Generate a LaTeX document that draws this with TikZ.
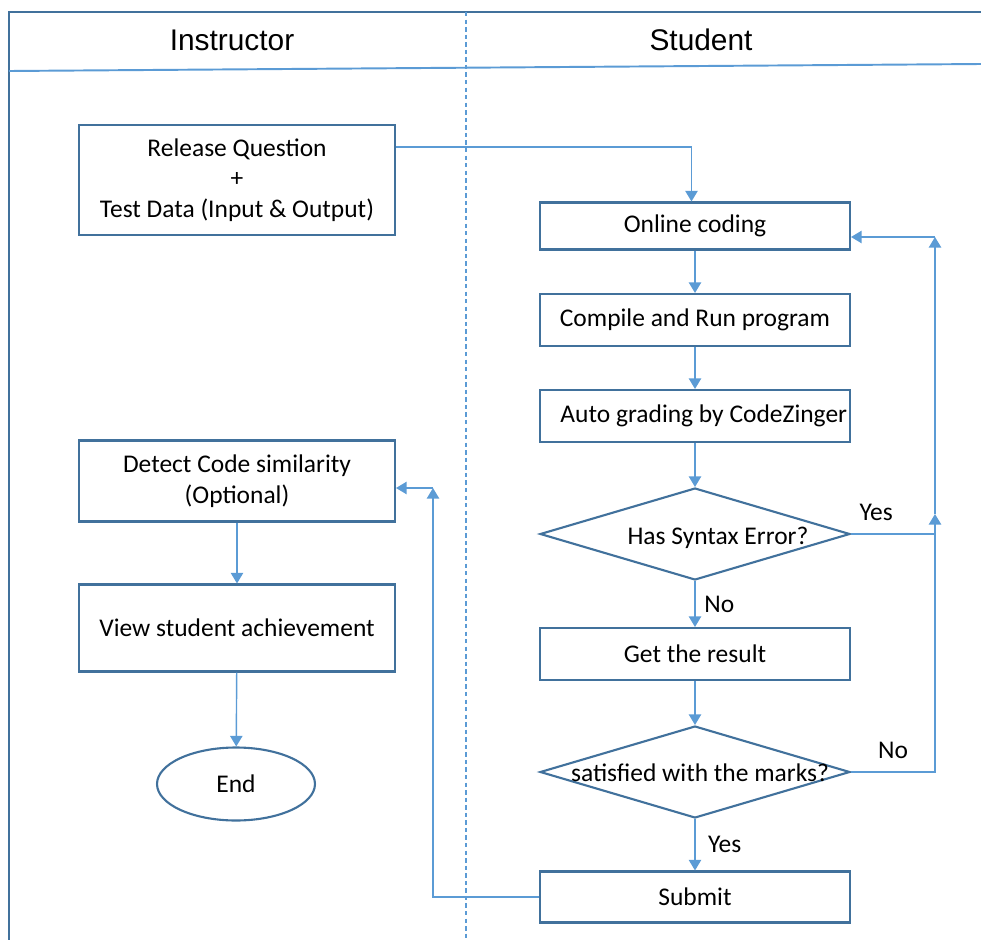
\documentclass[tikz,border=0pt]{standalone}
\usepackage{fontspec}
\setmainfont{Carlito}
\newfontfamily\hdfont{Liberation Sans}
\usepackage{tikz}
\usetikzlibrary{shapes.geometric, arrows.meta}
\definecolor{boxblue}{HTML}{41719C}
\definecolor{lineblue}{HTML}{5B9BD5}

\begin{document}
\begin{tikzpicture}[x=0.02cm, y=-0.02cm,
    box/.style={rectangle, draw=boxblue, line width=1.2pt, fill=white, inner sep=0pt, minimum width=6.2cm, font=\fontsize{14.5}{17.5}\selectfont, align=center},
    dec/.style={diamond, draw=boxblue, line width=1.2pt, fill=white, inner sep=0pt, minimum width=6.2cm, minimum height=1.84cm},
    arr/.style={draw=lineblue, line width=0.8pt, -{Triangle[length=6pt, width=7pt]}},
    lbl/.style={font=\fontsize{14.5}{17.5}\selectfont, text=black, inner sep=1pt}]
            \useasboundingbox (0, 0) rectangle (981, 940);

            % lanes
            \draw[boxblue, line width=1.4pt] (981, 12) -- (9, 12) -- (9, 940);
            \draw[lineblue, line width=1.1pt] (9, 71) -- (981, 64);
            \draw[lineblue, line width=0.7pt, dash pattern=on 2.5pt off 1.8pt] (466, 12) -- (466, 940);
            \node[font=\hdfont\fontsize{17}{20}\selectfont] (hins) at (232, 40) {Instructor};
            \node[font=\hdfont\fontsize{17}{20}\selectfont] (hstu) at (701, 40) {Student};

            % instructor side
            \node[box, minimum width=6.32cm, minimum height=2.2cm] (rel) at (237, 180) {Release Question\\+\\Test Data (Input \& Output)};
            \node[box, minimum width=6.32cm, minimum height=1.62cm] (det) at (237, 481) {Detect Code similarity\\(Optional)};
            \node[box, minimum width=6.32cm, minimum height=1.74cm] (view) at (237, 628) {View student achievement};
            \node[ellipse, draw=boxblue, line width=1.2pt, fill=white, inner sep=0pt, minimum width=3.16cm, minimum height=1.46cm, font=\fontsize{14.5}{17.5}\selectfont] (end) at (236, 784) {End};

            % student side
            \node[box, minimum height=0.94cm] (onl) at (695, 226) {Online coding};
            \node[box, minimum height=1.04cm] (comp) at (695, 320) {Compile and Run program};
            \node[box, minimum height=1.04cm] (auto) at (695, 416) {\hspace*{10pt}Auto grading by CodeZinger};
            \node[dec] (syn) at (695, 534) {};
            \node[lbl] (syntxt) at (718, 538) {Has Syntax Error?};
            \node[box, minimum height=1.04cm] (res) at (695, 654) {Get the result};
            \node[dec] (sat) at (695, 772) {};
            \node[lbl] (sattxt) at (700, 773) {satisfied with the marks?};
            \node[box, minimum height=1.02cm] (sub) at (695, 897) {Submit};

            \coordinate (up) at (935, 514);
            \coordinate (top) at (935, 237);
            \coordinate (back) at (433, 488);

            \draw[arr] ([yshift=-0.46cm]rel.north east) -| ([xshift=-2]onl.north);
            \draw[arr] (onl) -- (comp);
            \draw[arr] (comp) -- (auto);
            \draw[arr] (auto) -- (syn);
            \draw[arr] (syn) -- node[lbl, right=4pt] {No} (res);
            \draw[arr] (res) -- (sat);
            \draw[arr] (sat) -- node[lbl, right=6pt] {Yes} (sub);
            \draw[lineblue, line width=0.8pt] (syn.east) -- node[lbl, above=6pt, pos=0.3] {Yes} (syn.east -| up);
            \draw[arr] (sat.east) -| node[lbl, above=6pt, pos=0.25] {No} (up);
            \draw[arr] (up) -- (top);
            \draw[arr] (top) -- (onl.east |- top);
            \draw[arr] (sub.west) -| (back);
            \draw[arr] (back) -- (det.east |- back);
            \draw[arr] (det) -- (view);
            \draw[arr] (view) -- (end);
        \end{tikzpicture}
\end{document}
